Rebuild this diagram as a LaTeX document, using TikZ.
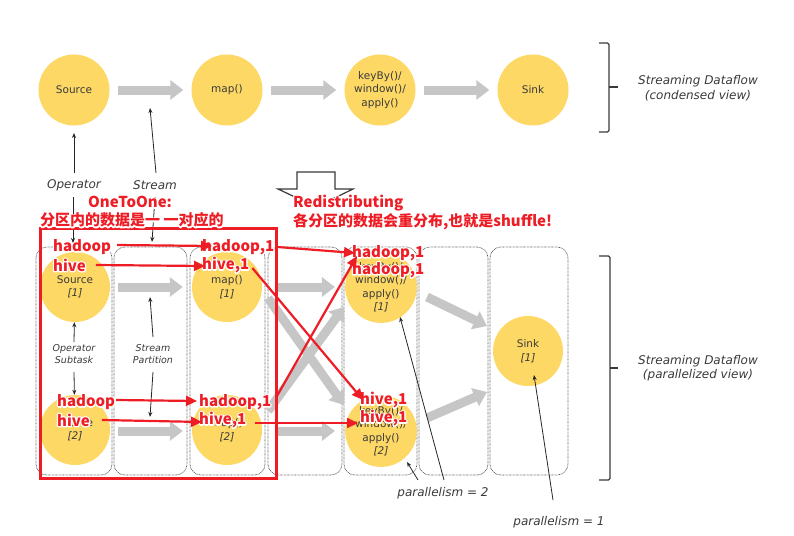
\documentclass[tikz,border=0pt]{standalone}
\usepackage{fontspec}
\setmainfont{DejaVu Sans}
\newfontfamily\cjk{Noto Sans CJK SC}
\usetikzlibrary{arrows.meta,calc}
\definecolor{circ}{HTML}{FDD865}
\definecolor{garrow}{HTML}{C6C6C6}
\definecolor{txt}{HTML}{3A3A3A}
\definecolor{ann}{HTML}{EE1C24}
\newcommand\halo[1]{\leavevmode\rlap{\special{pdf:literal direct 1 Tr 2.6 w 1 j}\textcolor{white}{#1}\special{pdf:literal direct 0 Tr}}#1}
\tikzset{
 op/.style={circle, fill=circ, minimum size=70pt, inner sep=0pt, text=txt, font=\fontsize{10.5}{13.5}\selectfont, align=center},
 fat/.style={draw=garrow, line width=9pt, -{Triangle[length=13pt,width=19pt]}},
 col/.style={draw=black!65, line width=0.7pt, dash pattern=on 0.7pt off 0.7pt, rounded corners=11pt},
 lbl/.style={text=txt, font=\fontsize{12}{14.5}\selectfont\itshape, align=center, inner sep=0pt},
 slbl/.style={text=txt, font=\fontsize{9.5}{12}\selectfont\itshape, align=center, inner sep=0pt},
 ptr/.style={draw=black!85, line width=0.8pt, -{Stealth[length=5pt,width=4pt]}},
 redtxt/.style={text=ann, font=\cjk\bfseries\fontsize{15}{18}\selectfont, inner sep=0pt, anchor=west},
 redarr/.style={draw=ann, line width=2.2pt, -{Triangle[length=11pt,width=10pt]}},
 brk/.style={draw=txt, line width=1.3pt, rounded corners=1.5pt},
}
\begin{document}
\begin{tikzpicture}[x=1pt,y=-1pt]
\useasboundingbox (0,0) rectangle (794,535);
% ---------- condensed view ----------
\node[op, minimum size=71pt] (S) at (74,90) {Source};
\node[op, minimum size=71pt] (M) at (227,90) {map()};
\node[op, minimum size=71pt] (K) at (380,90) {keyBy()/\\window()/\\apply()};
\node[op, minimum size=71pt] (Z) at (533,90) {Sink};
\draw[fat, shorten <=8pt, shorten >=8pt] (S) -- (M);
\draw[fat, shorten <=8pt, shorten >=8pt] (M) -- (K);
\draw[fat, shorten <=8pt, shorten >=8pt] (K) -- (Z);
\draw[brk] (599,43) -- (609,43) -- (609,132) -- (599,132);
\draw[brk] (609,87) -- (618,87);
\node[lbl] (cv) at (698,88) {Streaming Dataflow\\(condensed view)};
% labels between views
\node[lbl] (opl) at (74,185) {Operator};
\node[lbl] (stl) at (155,185) {Stream};
\coordinate (streamtop) at (150,108);
\coordinate (streambot) at (152,242);
\coordinate (optop) at (74,133);
\coordinate (opbot) at (73,243);
\draw[ptr] (74,173) -- (optop);
\draw[ptr] (156,173) -- (streamtop);
\draw[ptr] (73,197) -- (opbot);
\draw[ptr] (155,197) -- (streambot);
% ---------- parallel view columns ----------
\foreach \a/\b in {36/112,114/187,190/265,268/342,344/417,419/488,490/568}
  \draw[col] (\a,247) rectangle (\b,475);
% gray arrows
\coordinate (xa1) at (268,298); \coordinate (xa2) at (344,405);
\coordinate (xb1) at (268,411); \coordinate (xb2) at (344,307);
\coordinate (ya1) at (427,297); \coordinate (ya2) at (487,326);
\coordinate (yb1) at (427,418); \coordinate (yb2) at (487,392);
\draw[fat] (xa1) -- (xa2);
\draw[fat] (xb1) -- (xb2);
% circles
\node[op] (S1) at (75,287) {Source\\\textit{[1]}};
\node[op] (S2) at (75,430) {Source\\\textit{[2]}};
\node[op] (M1) at (227,287) {map()\\\textit{[1]}};
\node[op] (M2) at (227,430) {map()\\\textit{[2]}};
\node[op] (K1) at (381,287) {keyBy()/\\window()/\\apply()\\\textit{[1]}};
\node[op] (K2) at (381,431) {keyBy()/\\window()/\\apply()\\\textit{[2]}};
\node[op] (Z1) at (528,351) {Sink\\\textit{[1]}};
\draw[fat, shorten <=8pt, shorten >=9pt] (S1) -- (M1);
\draw[fat, shorten <=8pt, shorten >=9pt] (S2.east |- 0,431) -- (M2.west |- 0,431);
\draw[fat, shorten <=15pt, shorten >=10pt] (M1) -- (K1);
\draw[fat, shorten <=15pt, shorten >=10pt] (M2.east |- 0,431) -- (K2.west |- 0,431);
\draw[fat] (ya1) -- (ya2);
\draw[fat] (yb1) -- (yb2);
% small labels
\node[slbl] (ost) at (74,354) {Operator\\Subtask};
\node[slbl] (spt) at (153,354) {Stream\\Partition};
\draw[ptr] (74,342) -- (S1);
\draw[ptr] (74,372) -- (S2);
\draw[ptr] (153,337) -- (150,297);
\draw[ptr] (153,372) -- (150,417);
% brackets
\draw[brk] (599,256) -- (610,256) -- (610,480) -- (599,480);
\draw[brk] (610,368) -- (618,368);
\node[lbl] (pv) at (698,368) {Streaming Dataflow\\(parallelized view)};
% parallelism labels
\node[lbl] (p2) at (443,493) {parallelism = 2};
\node[lbl] (p1) at (559,522) {parallelism = 1};
\draw[ptr] (418,480) -- (407,462);
\draw[ptr] (444,480) -- (400,317);
\draw[ptr] (553,500) -- (534,375);
% ---------- red annotations ----------
\draw[draw=ann, line width=3pt] (40,228) rectangle (276,478);
\draw[txt, line width=1.2pt, fill=white, line join=miter] (297,172) -- (335,172) -- (335,189) -- (353,189) -- (316,207) -- (278,189) -- (297,189) -- cycle;
\node[redtxt] (o2o) at (88,202) {\halo{OneToOne:}};
\node[redtxt] (o2oc) at (40,220) {\halo{分区内的数据是一 一对应的}};
\node[redtxt] (rd) at (293,203) {\halo{Redistributing}};
\node[redtxt] (rdc) at (293,222) {\halo{各分区的数据会重分布,也就是shuffle!}};
\node[redtxt] (hA) at (53,247) {\halo{hadoop}};
\node[redtxt] (vA) at (53,265) {\halo{hive}};
\node[redtxt] (h1A) at (202,247) {\halo{hadoop,1}};
\node[redtxt] (v1A) at (202,265) {\halo{hive,1}};
\node[redtxt] (hB) at (57,402) {\halo{hadoop}};
\node[redtxt] (vB) at (57,420) {\halo{hive}};
\node[redtxt] (h1B) at (199,402) {\halo{hadoop,1}};
\node[redtxt] (v1B) at (199,420) {\halo{hive,1}};
\node[redtxt] (k1a) at (352,253) {\halo{hadoop,1}};
\node[redtxt] (k1b) at (352,270) {\halo{hadoop,1}};
\node[redtxt] (k2a) at (360,400) {\halo{hive,1}};
\node[redtxt] (k2b) at (360,418) {\halo{hive,1}};
\draw[redarr] ([xshift=6pt,yshift=2pt]hA.east) -- ([xshift=10pt,yshift=1pt]h1A.west);
\draw[redarr] ([xshift=10pt]vA.east) -- ([xshift=3pt,yshift=-1pt]v1A.west);
\draw[redarr] ([xshift=1pt,yshift=2pt]hB.east) -- ([xshift=-2pt,yshift=1pt]h1B.west);
\draw[redarr] ([xshift=12pt]vB.east) -- ([xshift=3pt,yshift=-2pt]v1B.west);
\draw[redarr] ([xshift=3pt]h1A.east) -- ([xshift=3pt]k1a.west);
\draw[redarr] ([xshift=3pt,yshift=-3pt]v1A.east) -- ([xshift=3pt]k2a.west);
\draw[redarr] ([xshift=5pt,yshift=5pt]h1B.east) -- ([xshift=5pt,yshift=-3pt]k1a.west);
\draw[redarr] ([xshift=9pt,yshift=-3pt]v1B.east) -- ([xshift=-2pt,yshift=-5pt]k2b.west);
\end{tikzpicture}
\end{document}
